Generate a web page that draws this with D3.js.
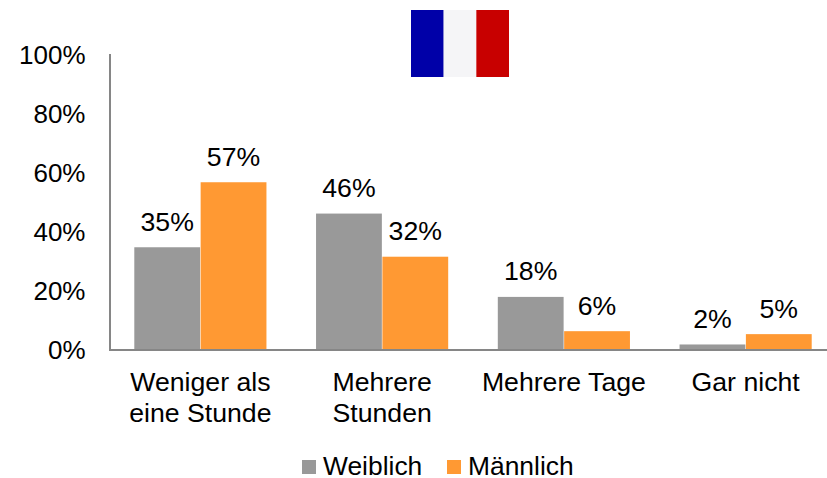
<!DOCTYPE html>
<html><head><meta charset="utf-8"><script src="https://cdn.jsdelivr.net/npm/d3@7/dist/d3.min.js"></script>
<style>html,body{margin:0;background:#fff}svg{display:block}text{font-family:"Liberation Sans",Arial,sans-serif;fill:#000}</style></head>
<body><svg id="c" width="827" height="478"></svg>
<script>
const categories=[["Weniger als","eine Stunde"],["Mehrere","Stunden"],["Mehrere Tage"],["Gar nicht"]];
const seriesNames=["Weiblich","Männlich"];
const weiblich=[35,46,18,2];
const maennlich=[57,32,6,5];
const barW=[34.6,46,17.8,1.7];
const barM=[56.6,31.4,6.2,5.2];
const yTicks=[0,20,40,60,80,100];
const flag=["#0000a8","#f5f5f7","#c80000"];
const colors=["#999999","#ff9933"];
const fs=26.67;
const svg=d3.select("#c");
const y=d3.scaleLinear().domain([0,100]).range([349.5,54]);
const x=d3.scaleBand().domain(d3.range(4)).range([110,837]);
const inner=d3.scaleBand().domain([0,1]).range([24.3,x.bandwidth()-25.3]).paddingInner(0.008);
const ax=svg.append("g").attr("transform","translate(110,0)").call(d3.axisLeft(y).tickValues(yTicks).tickSize(0).tickFormat(d=>d+"%"));
ax.select(".domain").attr("stroke","#868686").attr("stroke-width",2).attr("d","M0,54V351");
ax.selectAll("text").attr("font-size",26).attr("x",-24.5).attr("dy","0.35em").attr("text-anchor","end");
[barW,barM].forEach((arr,s)=>{
 const labels=s?maennlich:weiblich;
 svg.append("g").selectAll("rect").data(arr).join("rect")
  .attr("x",(d,i)=>x(i)+inner(s)).attr("width",inner.bandwidth())
  .attr("y",d=>y(d)).attr("height",d=>y(0)-y(d)).attr("fill",colors[s]);
 svg.append("g").selectAll("text").data(labels).join("text")
  .attr("x",(d,i)=>x(i)+inner(s)+inner.bandwidth()/2).attr("y",(d,i)=>y(arr[i])-16.5)
  .attr("text-anchor","middle").attr("font-size",fs).text(d=>d+"%");
});
svg.append("line").attr("x1",109).attr("x2",827).attr("y1",350).attr("y2",350).attr("stroke","#868686").attr("stroke-width",2);
const cat=svg.append("g").selectAll("text").data(categories).join("text")
 .attr("text-anchor","middle").attr("font-size",fs);
cat.each(function(lines,i){d3.select(this).selectAll("tspan").data(lines).join("tspan")
 .attr("x",x(i)+x.bandwidth()/2-0.5).attr("y",(d,j)=>390.5+j*31).text(d=>d);});
const fx=d3.scaleBand().domain(flag).range([411,509]);
svg.append("g").selectAll("rect").data(flag).join("rect").attr("x",d=>fx(d)).attr("y",10).attr("width",fx.bandwidth()).attr("height",67).attr("fill",d=>d);
const leg=[[302,323],[447,468]];
seriesNames.forEach((n,i)=>{
 svg.append("rect").attr("x",leg[i][0]).attr("y",460).attr("width",14).attr("height",14).attr("fill",colors[i]);
 svg.append("text").attr("x",leg[i][1]).attr("y",475).attr("font-size",26.4).text(n);
});
</script></body></html>
